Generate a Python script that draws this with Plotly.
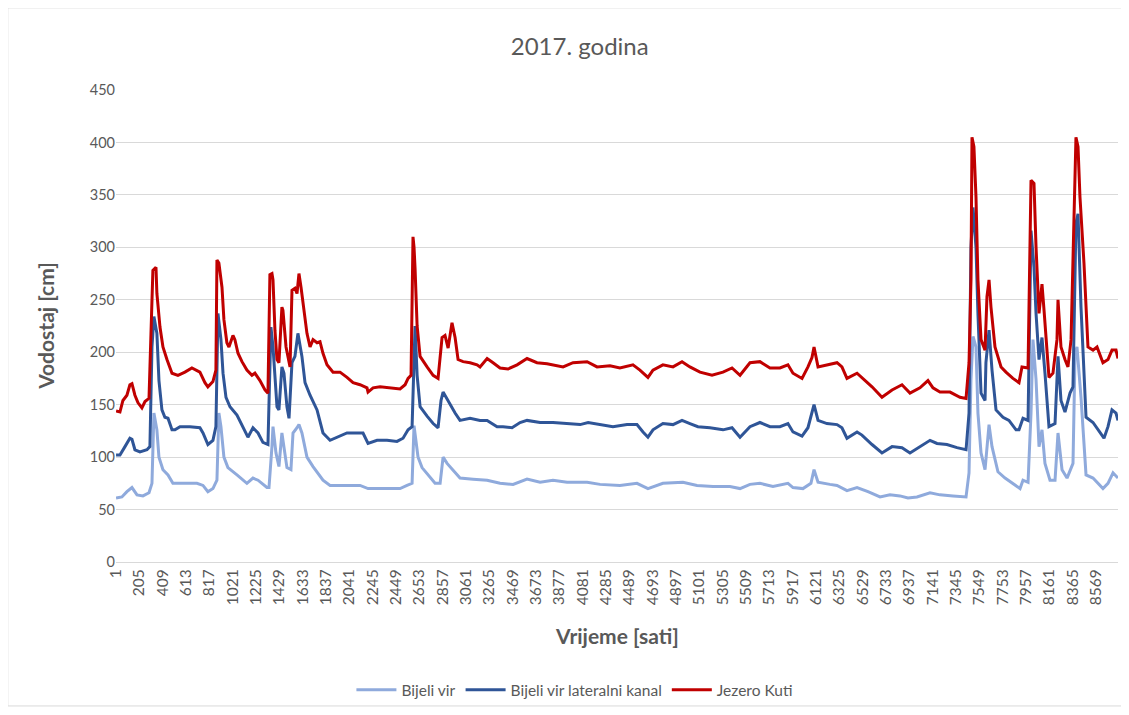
import plotly.graph_objects as go

# ---- data (hour index -> water level in cm) ----
hours_kuti = [1, 35, 61, 96, 122, 140, 166, 192, 227, 254, 289, 315, 323, 350, 358, 385, 411, 446, 490, 542,
              603, 664, 734, 778, 804, 848, 874, 883, 900, 927, 944, 970, 988, 1023, 1040, 1067, 1102, 1145,
              1189, 1215, 1259, 1303, 1329, 1346, 1364, 1373, 1390, 1408, 1425, 1451, 1460, 1487, 1504, 1522,
              1539, 1565, 1583, 1600, 1618, 1644, 1670, 1697, 1723, 1758, 1784, 1810, 1845, 1898, 1959, 2020,
              2073, 2134, 2195, 2204, 2248, 2309, 2396, 2484, 2528, 2554, 2580, 2597, 2606, 2615, 2633, 2659,
              2720, 2773, 2816, 2851, 2877, 2904, 2938, 2965, 2991, 3035, 3096, 3157, 3183, 3245, 3297, 3358,
              3428, 3507, 3594, 3681, 3769, 3856, 3909, 3996, 4119, 4206, 4319, 4406, 4520, 4581, 4651, 4695,
              4782, 4870, 4949, 5018, 5106, 5211, 5307, 5386, 5456, 5543, 5630, 5718, 5805, 5875, 5919, 5998,
              6050, 6085, 6103, 6138, 6216, 6304, 6347, 6391, 6479, 6522, 6610, 6697, 6785, 6872, 6942, 7029,
              7099, 7143, 7204, 7292, 7379, 7432, 7458, 7475, 7484, 7501, 7519, 7536, 7563, 7598, 7615, 7633,
              7650, 7685, 7738, 7781, 7842, 7895, 7921, 7974, 8000, 8026, 8044, 8070, 8096, 8114, 8157, 8192,
              8227, 8236, 8262, 8297, 8323, 8350, 8376, 8393, 8411, 8428, 8463, 8498, 8542, 8577, 8629, 8673,
              8708, 8743, 8760]
jezero_kuti = [144, 143, 154, 159, 169, 170, 159, 152, 147, 153, 156, 269, 278, 281, 256, 224, 205, 193, 180, 178,
               181, 185, 181, 171, 167, 172, 183, 288, 285, 262, 231, 209, 205, 216, 212, 199, 191, 183,
               178, 180, 173, 164, 161, 274, 275, 269, 221, 193, 190, 243, 240, 205, 196, 186,
               259, 261, 256, 275, 262, 237, 218, 205, 212, 209, 210, 199, 188, 181, 181, 176,
               171, 169, 166, 162, 166, 167, 166, 165, 169, 175, 178, 310, 300, 280, 225, 196,
               186, 178, 175, 214, 216, 204, 228, 214, 193, 191, 190, 188, 186, 194, 190, 185,
               184, 188, 194, 190, 189, 187, 186, 190, 191, 186, 187, 185, 188, 183, 176, 183,
               188, 186, 191, 186, 181, 178, 181, 185, 178, 190, 191, 185, 185, 188, 180, 175,
               186, 195, 205, 186, 188, 190, 186, 175, 180, 176, 167, 157, 164, 169, 161, 166,
               173, 166, 162, 162, 157, 156, 190, 269, 405, 396, 348, 269, 212, 202, 253, 269,
               243, 205, 186, 181, 175, 171, 186, 185, 364, 361, 300, 237, 265, 240, 176, 180,
               212, 250, 205, 193, 186, 212, 316, 405, 396, 348, 285, 205, 202, 205, 190, 193,
               202, 202, 194]

hours_lat = [1, 35, 79, 122, 140, 166, 210, 271, 297, 315, 332, 358, 376, 402, 428, 455, 490, 516, 560, 647,
             734, 761, 804, 848, 874, 892, 918, 936, 962, 997, 1058, 1110, 1154, 1198, 1242, 1285, 1329,
             1355, 1373, 1408, 1425, 1451, 1469, 1495, 1513, 1539, 1565, 1591, 1626, 1653, 1697, 1758, 1810,
             1872, 1933, 2020, 2073, 2160, 2204, 2283, 2370, 2457, 2510, 2554, 2589, 2615, 2633, 2659, 2720,
             2773, 2816, 2842, 2860, 2904, 2965, 3008, 3096, 3183, 3245, 3332, 3384, 3463, 3533, 3594, 3708,
             3821, 3944, 4058, 4128, 4232, 4345, 4468, 4555, 4608, 4651, 4695, 4782, 4870, 4949, 5018, 5088,
             5193, 5307, 5386, 5456, 5543, 5630, 5718, 5805, 5875, 5919, 5998, 6050, 6103, 6138, 6216, 6304,
             6347, 6391, 6479, 6522, 6610, 6697, 6785, 6872, 6942, 7029, 7117, 7178, 7265, 7353, 7432, 7458,
             7475, 7493, 7519, 7536, 7563, 7598, 7606, 7633, 7659, 7694, 7755, 7807, 7869, 7895, 7930, 7974,
             8000, 8026, 8044, 8070, 8096, 8122, 8157, 8210, 8236, 8262, 8297, 8341, 8367, 8393, 8411, 8437,
             8481, 8542, 8603, 8638, 8673, 8708, 8743, 8760]
lateralni_kanal = [102, 102, 110, 118, 117, 107, 105, 107, 110, 205, 234, 218, 173, 145, 138, 137, 126, 126, 129, 129,
                   128, 123, 112, 116, 129, 237, 212, 180, 157, 148, 140, 129, 119, 128, 123, 114, 112,
                   224, 205, 148, 145, 186, 180, 148, 137, 190, 196, 218, 196, 171, 159, 145, 123,
                   116, 119, 123, 123, 123, 113, 116, 116, 115, 118, 126, 129, 225, 178, 148, 139,
                   132, 128, 154, 162, 153, 142, 135, 137, 135, 135, 129, 129, 128, 133, 135, 133,
                   133, 132, 131, 133, 131, 129, 131, 131, 124, 119, 126, 132, 131, 135, 132, 129,
                   128, 126, 128, 119, 129, 133, 129, 129, 132, 124, 120, 128, 150, 135, 132, 131,
                   128, 118, 124, 121, 112, 104, 110, 109, 104, 110, 116, 113, 112, 109, 107, 142,
                   300, 338, 300, 237, 161, 154, 190, 221, 183, 145, 138, 135, 126, 126, 137, 135,
                   316, 281, 237, 193, 214, 180, 129, 132, 196, 154, 143, 161, 167, 323, 332, 243,
                   138, 133, 123, 118, 129, 145, 142, 135]

hours_bv = [1, 52, 96, 140, 184, 236, 289, 315, 332, 358, 376, 411, 455, 498, 586, 708, 761, 804, 848, 883,
            900, 918, 944, 979, 1058, 1145, 1198, 1242, 1320, 1338, 1364, 1373, 1399, 1425, 1451, 1469, 1495,
            1530, 1548, 1583, 1600, 1626, 1670, 1723, 1810, 1872, 1985, 2134, 2204, 2335, 2484, 2545, 2589,
            2606, 2641, 2676, 2729, 2790, 2834, 2860, 2895, 2947, 3008, 3122, 3245, 3358, 3472, 3594, 3708,
            3821, 3944, 4119, 4232, 4406, 4555, 4651, 4782, 4957, 5080, 5220, 5368, 5456, 5543, 5630, 5744,
            5875, 5919, 6006, 6076, 6103, 6138, 6242, 6304, 6391, 6479, 6575, 6680, 6767, 6854, 6924, 7003,
            7117, 7204, 7318, 7432, 7458, 7475, 7493, 7519, 7536, 7563, 7598, 7615, 7633, 7659, 7711, 7773,
            7842, 7904, 7930, 7974, 8000, 8017, 8044, 8070, 8096, 8122, 8166, 8210, 8236, 8271, 8315, 8341,
            8367, 8385, 8402, 8437, 8481, 8542, 8629, 8673, 8717, 8760]
bijeli_vir = [61, 62, 67, 71, 64, 63, 66, 75, 142, 126, 100, 88, 83, 75, 75, 75, 73, 67, 70, 78,
              142, 129, 100, 90, 83, 75, 80, 78, 71, 71, 110, 129, 104, 91, 123, 110, 90,
              88, 123, 128, 131, 123, 100, 91, 78, 73, 73, 73, 70, 70, 70, 73, 75,
              130, 100, 90, 83, 75, 75, 100, 94, 88, 80, 79, 78, 75, 74, 79, 76,
              78, 76, 76, 74, 73, 75, 70, 75, 76, 73, 72, 72, 70, 74, 75, 72,
              75, 71, 70, 75, 88, 76, 74, 73, 68, 71, 67, 62, 64, 63, 61, 62,
              66, 64, 63, 62, 85, 174, 215, 205, 142, 104, 88, 110, 131, 110, 86, 80,
              75, 70, 78, 76, 142, 212, 174, 110, 126, 94, 78, 78, 123, 88, 80, 88,
              94, 199, 205, 157, 83, 80, 70, 75, 85, 80]

series_names = ["Bijeli vir", "Bijeli vir lateralni kanal", "Jezero Kuti"]
series_colors = ["#8FAADC", "#2F5597", "#C00000"]

tick_hours = list(range(1, 8570, 204))
tick_labels = [str(h) for h in tick_hours]
y_ticks = list(range(0, 451, 50))

FONT = "Lato, 'Liberation Sans', sans-serif"
GREY = "#595959"

fig = go.Figure()
for name, xs, ys, col in [
    (series_names[0], hours_bv, bijeli_vir, series_colors[0]),
    (series_names[1], hours_lat, lateralni_kanal, series_colors[1]),
    (series_names[2], hours_kuti, jezero_kuti, series_colors[2]),
]:
    fig.add_trace(go.Scatter(x=xs, y=ys, mode="lines", name=name,
                             line=dict(color=col, width=3, shape="linear")))

fig.update_layout(
    width=1121, height=707,
    paper_bgcolor="white", plot_bgcolor="white",
    margin=dict(l=108, r=11, t=82, b=153),
    font=dict(family=FONT, color=GREY, size=13),
    title=dict(text="2017. godina", x=0.51, xanchor="center", y=0.945, yanchor="middle",
               yref="container", font=dict(size=24, color=GREY, family=FONT)),
    showlegend=True,
    legend=dict(orientation="h", x=0.458, xanchor="center", y=0.035, yanchor="middle",
                xref="paper", yref="container", font=dict(size=15.5, color=GREY),
                bgcolor="rgba(0,0,0,0)", itemwidth=40, traceorder="normal"),
    xaxis=dict(range=[0.5, 8760.5], tickmode="array", tickvals=tick_hours, ticktext=tick_labels,
               tickangle=-90, showgrid=False, zeroline=False, showline=True,
               linecolor="#D9D9D9", linewidth=1, ticks="", tickfont=dict(size=15.5, color=GREY),
               automargin=False),
    yaxis=dict(range=[0, 450], tickmode="array", tickvals=y_ticks, showgrid=True,
               gridcolor="#D9D9D9", gridwidth=1, zeroline=False, showline=False, ticks="",
               tickfont=dict(size=14.5, color=GREY), automargin=False, ticklen=0),
    annotations=[
        dict(text="<b>Vrijeme [sati]</b>", xref="paper", yref="paper", x=0.5, y=-0.155,
             xanchor="center", yanchor="middle", showarrow=False,
             font=dict(size=21, color=GREY, family=FONT)),
        dict(text="<b>Vodostaj [cm]</b>", xref="paper", yref="paper", x=-0.071, y=0.5,
             xanchor="center", yanchor="middle", showarrow=False, textangle=-90,
             font=dict(size=21, color=GREY, family=FONT)),
    ],
    shapes=[dict(type="rect", xref="paper", yref="paper", x0=-0.108, x1=1.004, y0=-0.305, y1=1.174,
                 line=dict(color="#D9D9D9", width=1), fillcolor="rgba(0,0,0,0)", layer="below")],
)

fig.write_html("out.html")
